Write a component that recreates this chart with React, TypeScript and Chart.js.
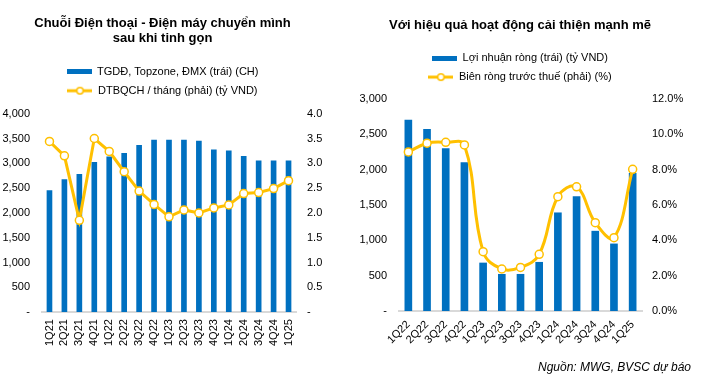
import React, { useEffect, useRef } from "react";
import { Chart, registerables } from "chart.js";

Chart.register(...registerables);

// ---- Left chart data ----
const leftCategories = ["1Q21","2Q21","3Q21","4Q21","1Q22","2Q22","3Q22","4Q22","1Q23","2Q23","3Q23","4Q23","1Q24","2Q24","3Q24","4Q24","1Q25"];
const storeCounts = [2450,2670,2780,3020,3130,3200,3360,3470,3470,3470,3450,3270,3250,3140,3050,3050,3050];
const revenuePerStore = [3.44,3.15,1.85,3.50,3.24,2.83,2.44,2.17,1.92,2.06,2.00,2.10,2.16,2.39,2.41,2.49,2.65];
const leftTitle = ["Chuỗi Điện thoại - Điện máy chuyển mình", "sau khi tinh gọn"];
const leftBarLabel = "TGDĐ, Topzone, ĐMX (trái) (CH)";
const leftLineLabel = "DTBQCH / tháng (phải) (tỷ VND)";

// ---- Right chart data ----
const rightCategories = ["1Q22","2Q22","3Q22","4Q22","1Q23","2Q23","3Q23","4Q23","1Q24","2Q24","3Q24","4Q24","1Q25"];
const netProfit = [2700,2570,2300,2100,680,520,520,690,1390,1620,1130,950,1950];
const pretaxMargin = [9.0,9.5,9.55,9.4,3.36,2.38,2.47,3.21,6.47,7.03,5.0,4.15,8.02];
const rightTitle = "Với hiệu quả hoạt động cải thiện mạnh mẽ";
const rightBarLabel = "Lợi nhuận ròng (trái) (tỷ VND)";
const rightLineLabel = "Biên ròng trước thuế (phải) (%)";

const sourceNote = "Nguồn: MWG, BVSC dự báo";

const BLUE = "#0070C0";
const GOLD = "#FFC000";
const FONT = "'Liberation Sans', Arial, sans-serif";

Chart.defaults.font.family = FONT;
Chart.defaults.font.size = 11;
Chart.defaults.color = "#000";

function barIcon() {
  const c = document.createElement("canvas");
  c.width = 25; c.height = 5;
  const ctx = c.getContext("2d")!;
  ctx.fillStyle = BLUE;
  ctx.fillRect(0, 0, 25, 5);
  return c;
}
function lineIcon() {
  const c = document.createElement("canvas");
  c.width = 25; c.height = 10;
  const ctx = c.getContext("2d")!;
  ctx.strokeStyle = GOLD;
  ctx.lineWidth = 3;
  ctx.beginPath(); ctx.moveTo(0, 5); ctx.lineTo(25, 5); ctx.stroke();
  ctx.beginPath(); ctx.arc(12.5, 5, 3.2, 0, Math.PI * 2);
  ctx.fillStyle = "#fff"; ctx.fill();
  ctx.lineWidth = 1.5; ctx.stroke();
  return c;
}

function makeConfig(opts: any) {
  const {
    categories, bars, line, barLabel, lineLabel, title, titlePadTop, titlePadBottom, legendGap,
    yMax, yStep, y1Max, y1Step, y1Fmt, barThickness, tension, rotation, pad,
    yWidth, y1Width, yPad, y1Pad,
  } = opts;
  const bIcon = barIcon();
  const lIcon = lineIcon();
  const legendGapPlugin = {
    id: "legendGap",
    afterInit(chart: any) {
      const lg = chart.legend;
      if (!lg || lg.__patched) return;
      const orig = lg.fit.bind(lg);
      lg.fit = () => {
        orig();
        lg.height += legendGap;
      };
      lg.__patched = true;
    },
  };
  return {
    type: "bar",
    plugins: [legendGapPlugin],
    data: {
      labels: categories,
      datasets: [
        {
          type: "bar",
          label: barLabel,
          data: bars,
          backgroundColor: BLUE,
          borderWidth: 0,
          barThickness,
          yAxisID: "y",
          order: 1,
        },
        {
          type: "line",
          label: lineLabel,
          data: line,
          borderColor: GOLD,
          borderWidth: 3,
          pointRadius: 4,
          pointBackgroundColor: "#fff",
          pointBorderColor: GOLD,
          pointBorderWidth: 1.5,
          tension,
          yAxisID: "y1",
          order: 0,
        },
      ],
    },
    options: {
      animation: false,
      responsive: false,
      maintainAspectRatio: false,
      layout: { padding: pad },
      plugins: {
        tooltip: { enabled: false },
        title: {
          display: true,
          text: title,
          font: { size: 13, weight: "bold", family: FONT },
          color: "#000",
          padding: { top: titlePadTop, bottom: titlePadBottom },
          lineHeight: 1.2,
        },
        legend: {
          display: true,
          position: "top",
          labels: {
            usePointStyle: true,
            pointStyleWidth: 25,
            padding: 8,
            font: { size: 11, family: FONT },
            color: "#000",
            generateLabels: () => [
              { text: barLabel, pointStyle: bIcon, fillStyle: "transparent", strokeStyle: "transparent", lineWidth: 0, hidden: false, datasetIndex: 0, fontColor: "#000" },
              { text: lineLabel, pointStyle: lIcon, fillStyle: "transparent", strokeStyle: "transparent", lineWidth: 0, hidden: false, datasetIndex: 1, fontColor: "#000" },
            ],
          },
        },
      },
      scales: {
        x: {
          grid: { display: false, drawTicks: false },
          border: { display: true, color: "#D9D9D9", width: 2 },
          ticks: {
            minRotation: rotation,
            maxRotation: rotation,
            padding: 7,
            autoSkip: false,
            font: { size: 11, family: FONT },
            color: "#000",
          },
        },
        y: {
          position: "left",
          min: 0,
          max: yMax,
          grid: { display: false, drawTicks: false },
          border: { display: false },
          afterFit: (s: any) => { s.width = yWidth; },
          ticks: {
            stepSize: yStep,
            padding: yPad,
            color: "#000",
            callback: (v: number) => (v === 0 ? "-" : v.toLocaleString("en-US")),
          },
        },
        y1: {
          position: "right",
          min: 0,
          max: y1Max,
          grid: { display: false, drawTicks: false },
          border: { display: false },
          afterFit: (s: any) => { s.width = y1Width; },
          ticks: {
            stepSize: y1Step,
            padding: y1Pad,
            color: "#000",
            callback: y1Fmt,
          },
        },
      },
    },
  } as any;
}

function ChartCanvas(props: { config: any; style: React.CSSProperties; width: number; height: number }) {
  const ref = useRef<HTMLCanvasElement>(null);
  useEffect(() => {
    if (!ref.current) return;
    const chart = new Chart(ref.current, props.config);
    return () => chart.destroy();
  }, []);
  return <canvas ref={ref} width={props.width} height={props.height} style={{ position: "absolute", ...props.style }} />;
}

export default function App() {
  const leftConfig = makeConfig({
    categories: leftCategories,
    bars: storeCounts,
    line: revenuePerStore,
    barLabel: leftBarLabel,
    lineLabel: leftLineLabel,
    title: leftTitle,
    titlePadTop: 15.5,
    titlePadBottom: 11.5,
    legendGap: 7.5,
    yMax: 4000,
    yStep: 500,
    y1Max: 4,
    y1Step: 0.5,
    y1Fmt: (v: number) => (v === 0 ? "-" : v.toFixed(1)),
    barThickness: 5,
    tension: 0,
    rotation: 90,
    yWidth: 42,
    y1Width: 29,
    yPad: 12,
    y1Pad: 11,
    pad: { left: 0, right: 0, top: 0, bottom: 34 },
  });
  const rightConfig = makeConfig({
    categories: rightCategories,
    bars: netProfit,
    line: pretaxMargin,
    barLabel: rightBarLabel,
    lineLabel: rightLineLabel,
    title: rightTitle,
    titlePadTop: 17.5,
    titlePadBottom: 11.5,
    legendGap: 6.4,
    yMax: 3000,
    yStep: 500,
    y1Max: 12,
    y1Step: 2,
    y1Fmt: (v: number) => v.toFixed(1) + "%",
    barThickness: 7,
    tension: 0.4,
    rotation: 45,
    yWidth: 44,
    y1Width: 43,
    yPad: 12,
    y1Pad: 10,
    pad: { left: 0, right: 0, top: 0, bottom: 33.6 },
  });
  return (
    <div style={{ position: "absolute", left: 0, top: 0, width: 725, height: 387, background: "#fff", overflow: "hidden" }}>
      <ChartCanvas config={leftConfig} width={325} height={387} style={{ left: 0, top: 0 }} />
      <ChartCanvas config={rightConfig} width={330} height={387} style={{ left: 355, top: 0 }} />
      <div
        style={{
          position: "absolute",
          left: 538,
          top: 360,
          fontFamily: FONT,
          fontStyle: "italic",
          fontSize: 12,
          lineHeight: "15px",
          color: "#000",
          whiteSpace: "nowrap",
        }}
      >
        {sourceNote}
      </div>
    </div>
  );
}
